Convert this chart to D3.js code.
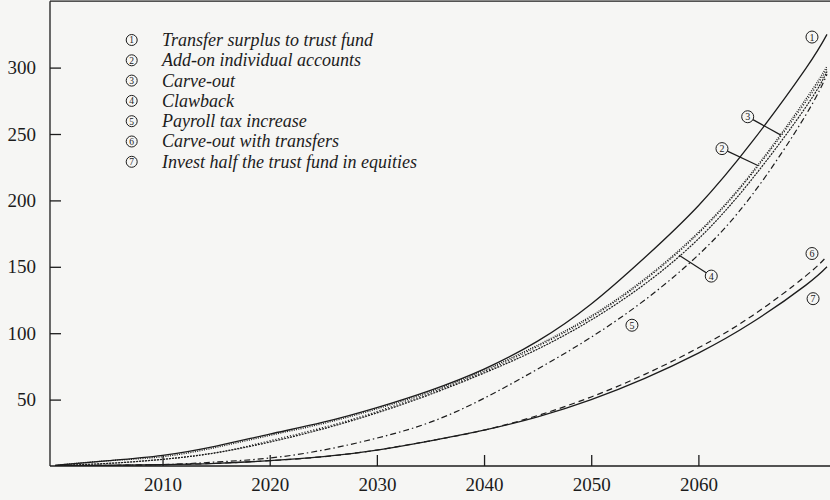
<!DOCTYPE html>
<html>
<head>
<meta charset="utf-8">
<script src="https://cdn.jsdelivr.net/npm/d3@7"></script>
<style>
  body { margin: 0; background: #f6f6f4; }
  svg { display: block; }
</style>
</head>
<body>
<svg id="chart"></svg>
<script>
// Data
const years = [2000, 2005, 2010, 2015, 2020, 2025, 2030, 2035, 2040, 2045, 2050, 2055, 2060, 2065, 2070, 2072];

const transferSurplus = [0.5, 4, 8, 15, 24, 33, 44, 57, 73, 94, 122, 157, 196, 244, 299, 325];
const addOnAccounts = [0.5, 4, 7, 14, 23, 32, 43, 56, 72, 91, 113, 141, 176, 221, 276, 301];
const carveOut = [0.3, 2, 5, 10, 19, 29, 41, 55, 71, 90, 112, 140, 175, 220, 274, 299];
const clawback = [0.3, 2, 5, 10, 18, 28, 40, 54, 70, 88, 110, 137, 171, 216, 270, 297];
const payrollTax = [0, 0.5, 1, 3, 6, 12, 21, 33, 51, 73, 97, 125, 159, 204, 264, 295];
const carveOutTransfers = [0, 0.5, 1, 2, 4, 7, 12, 19, 27, 38, 52, 69, 89, 113, 143, 158];
const investEquities = [0, 0.5, 1, 2, 4, 7, 12, 19, 27, 37, 50, 66, 85, 108, 136, 150];

const legendLabels = [
  'Transfer surplus to trust fund',
  'Add-on individual accounts',
  'Carve-out',
  'Clawback',
  'Payroll tax increase',
  'Carve-out with transfers',
  'Invest half the trust fund in equities',
];

const yTicks = [50, 100, 150, 200, 250, 300];
const xTicks = [2010, 2020, 2030, 2040, 2050, 2060];

// curve labels: [number, year, value, leader target year or null]
const curveLabels = [
  [1, 2070.6, 323, null],
  [2, 2062.2, 239, 2065.5],
  [3, 2064.6, 263, 2067.7],
  [4, 2061.2, 143, 2058.2],
  [5, 2053.8, 106, null],
  [6, 2070.6, 160, null],
  [7, 2070.7, 126, null],
];

const series = [
  { values: transferSurplus, dash: null, width: 1.3 },
  { values: addOnAccounts, dash: '1,1.3', width: 1.3 },
  { values: carveOut, dash: '1.2,1.8', width: 1.1 },
  { values: clawback, dash: '2,1', width: 1.2 },
  { values: payrollTax, dash: '6,3,1.5,3', width: 1.2 },
  { values: carveOutTransfers, dash: '6,4', width: 1.2 },
  { values: investEquities, dash: null, width: 1.3 },
];

const width = 830;
const height = 500;
const ink = '#1c1c1c';
const serif = "'Liberation Serif', 'Times New Roman', serif";

const svg = d3.select('#chart').attr('width', width).attr('height', height);

const xScale = d3.scaleLinear().domain([1999.5, 2072]).range([50, 827]);
const yScale = d3.scaleLinear().domain([0, 350]).range([466, 1.2]);

svg
  .append('clipPath')
  .attr('id', 'plot')
  .append('rect')
  .attr('x', 50)
  .attr('y', 0)
  .attr('width', width - 50)
  .attr('height', yScale(0));

// Frame
svg
  .append('g')
  .attr('stroke', ink)
  .attr('stroke-width', 1.3)
  .call((g) => g.append('line').attr('x1', 50).attr('x2', 50).attr('y1', yScale(0)).attr('y2', yScale(350)))
  .call((g) => g.append('line').attr('x1', 50).attr('x2', width).attr('y1', yScale(0)).attr('y2', yScale(0)))
  .call((g) => g.append('line').attr('x1', 50).attr('x2', width).attr('y1', yScale(350)).attr('y2', yScale(350)));

// Y axis
const yAxis = svg
  .append('g')
  .attr('transform', 'translate(50,0)')
  .call(d3.axisLeft(yScale).tickValues(yTicks).tickSizeInner(-11).tickSizeOuter(0).tickPadding(14));
yAxis.select('.domain').remove();
yAxis.selectAll('line').attr('stroke', ink).attr('stroke-width', 1.3);
yAxis
  .selectAll('text')
  .attr('fill', ink)
  .attr('font-family', serif)
  .attr('font-size', 19);

// X axis
const xAxis = svg
  .append('g')
  .attr('transform', `translate(0,${yScale(0)})`)
  .call(d3.axisBottom(xScale).tickValues(xTicks).tickFormat(d3.format('d')).tickSizeInner(-11).tickSizeOuter(0).tickPadding(12));
xAxis.select('.domain').remove();
xAxis.selectAll('line').attr('stroke', ink).attr('stroke-width', 1.3);
xAxis
  .selectAll('text')
  .attr('fill', ink)
  .attr('font-family', serif)
  .attr('font-size', 19);

// Lines
const line = d3
  .line()
  .curve(d3.curveNatural)
  .x((d) => xScale(d[0]))
  .y((d) => yScale(d[1]));

svg
  .append('g')
  .attr('clip-path', 'url(#plot)')
  .selectAll('path')
  .data(series)
  .join('path')
  .attr('fill', 'none')
  .attr('stroke', ink)
  .attr('stroke-width', (d) => d.width)
  .attr('stroke-dasharray', (d) => d.dash)
  .attr('d', (d) => line(years.map((y, i) => [y, d.values[i]])));

// Circled numbers
const circled = (g, n, r, fontSize) => {
  g.append('circle')
    .attr('r', r)
    .attr('fill', 'none')
    .attr('stroke', ink)
    .attr('stroke-width', 1);
  g.append('text')
    .attr('text-anchor', 'middle')
    .attr('dy', '0.36em')
    .attr('font-family', serif)
    .attr('font-size', fontSize)
    .attr('fill', ink)
    .text(n);
};

const valueAt = (values, year) => d3.scaleLinear().domain(years).range(values)(year);

// Curve labels with leaders
curveLabels.forEach(([n, yr, v, target]) => {
  const cx = xScale(yr);
  const cy = yScale(v);
  if (target !== null) {
    const tx = xScale(target);
    const ty = yScale(valueAt(series[n - 1].values, target));
    const a = Math.atan2(ty - cy, tx - cx);
    svg
      .append('line')
      .attr('x1', cx + 6 * Math.cos(a))
      .attr('y1', cy + 6 * Math.sin(a))
      .attr('x2', tx)
      .attr('y2', ty)
      .attr('stroke', ink)
      .attr('stroke-width', 1.2);
  }
  svg
    .append('g')
    .attr('transform', `translate(${cx},${cy})`)
    .call((g) => circled(g, n, 6, 10));
});

// Legend
const legend = svg.append('g');
legendLabels.forEach((label, i) => {
  const y = 40 + i * 20.3;
  legend
    .append('g')
    .attr('transform', `translate(131.7,${y})`)
    .call((g) => circled(g, i + 1, 5.5, 9.5));
  legend
    .append('text')
    .attr('x', 162)
    .attr('y', y)
    .attr('dy', '0.33em')
    .attr('font-family', serif)
    .attr('font-style', 'italic')
    .attr('font-size', 18)
    .attr('fill', ink)
    .text(label);
});
</script>
</body>
</html>
